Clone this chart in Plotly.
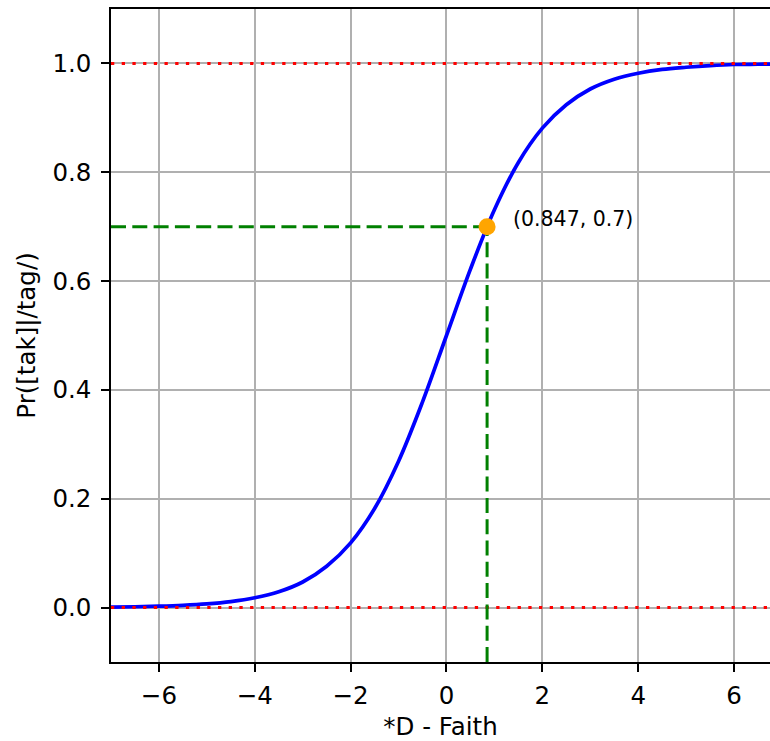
import plotly.graph_objects as go

# Curve values
x_vals = [-7, -6.5, -6, -5.5, -5, -4.5, -4, -3.5, -3, -2.5, -2, -1.5, -1, -0.5,
          0, 0.5, 1, 1.5, 2, 2.5, 3, 3.5, 4, 4.5, 5, 5.5, 6, 6.5, 7]
p_vals = [0.0009, 0.0015, 0.0025, 0.0041, 0.0067, 0.011, 0.018, 0.029, 0.047, 0.076,
          0.119, 0.182, 0.269, 0.378, 0.5, 0.622, 0.731, 0.818, 0.881, 0.924,
          0.953, 0.971, 0.982, 0.989, 0.993, 0.996, 0.998, 0.9985, 0.999]

point_x = 0.847
point_y = 0.7
point_label = "(0.847, 0.7)"
bounds_y = [0.0, 1.0]
x_range = [-7, 6.75]
y_range = [-0.1, 1.1]
x_ticks = [-6, -4, -2, 0, 2, 4, 6]
y_ticks = [0.0, 0.2, 0.4, 0.6, 0.8, 1.0]

FONT = "DejaVu Sans"
FS = 24.5

fig = go.Figure()

fig.add_trace(go.Scatter(x=x_vals, y=p_vals, mode="lines",
                         line=dict(color="blue", width=3.7, shape="spline"),
                         hoverinfo="skip", showlegend=False))

for b in bounds_y:
    fig.add_trace(go.Scatter(x=[x_range[0], x_range[1] + 1], y=[b, b], mode="lines",
                             line=dict(color="red", width=3, dash="3.3px,7.4px"),
                             showlegend=False))

fig.add_trace(go.Scatter(x=[x_range[0], point_x], y=[point_y, point_y], mode="lines",
                         line=dict(color="green", width=3, dash="15px,6.3px"), showlegend=False))
fig.add_trace(go.Scatter(x=[point_x, point_x], y=[y_range[0], point_y], mode="lines",
                         line=dict(color="green", width=3, dash="15px,6.3px"), showlegend=False))

fig.add_trace(go.Scatter(x=[point_x], y=[point_y], mode="markers",
                         marker=dict(color="orange", size=17),
                         showlegend=False))

fig.add_annotation(x=point_x, y=point_y, text=point_label, showarrow=False,
                   xanchor="left", yanchor="middle", xshift=24, yshift=8,
                   font=dict(family=FONT, size=20.5, color="black"))

fig.update_xaxes(range=x_range, tickvals=x_ticks, showgrid=True, gridcolor="#b0b0b0",
                 gridwidth=1.5, zeroline=False, showline=True, linecolor="black",
                 linewidth=1.5, mirror=True, ticks="outside", ticklen=8, tickwidth=1.5,
                 tickcolor="black", ticklabelstandoff=3,
                 tickfont=dict(family=FONT, size=FS, color="black"),
                 title=dict(text="*D - Faith", font=dict(family=FONT, size=FS, color="black"),
                            standoff=11))
fig.update_yaxes(range=y_range, tickvals=y_ticks, tickformat=".1f", showgrid=True,
                 gridcolor="#b0b0b0", gridwidth=1.5, zeroline=False, showline=True,
                 linecolor="black", linewidth=1.5, ticks="outside", ticklen=8,
                 tickwidth=1.5, tickcolor="black", ticklabelstandoff=5,
                 tickfont=dict(family=FONT, size=FS, color="black"),
                 title=dict(text="Pr([tak]|/tag/)", font=dict(family=FONT, size=FS, color="black"),
                            standoff=10))

fig.update_layout(width=770, height=741, margin=dict(l=111, r=0, t=9, b=79),
                  plot_bgcolor="white", paper_bgcolor="white",
                  font=dict(family=FONT, color="black"))

fig.write_html("out.html")
